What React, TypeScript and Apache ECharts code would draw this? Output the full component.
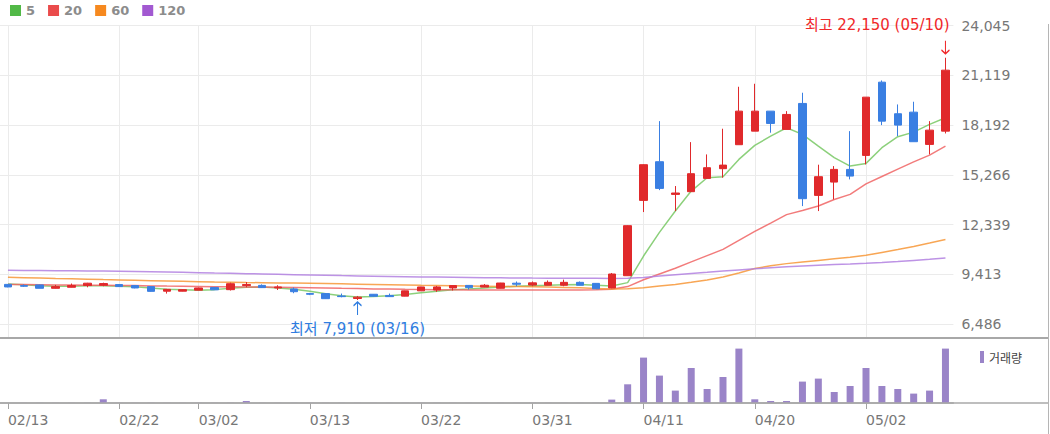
import React, { useEffect, useRef } from 'react';
import * as echarts from 'echarts';

const FONT = '"DejaVu Sans", "Noto Sans CJK KR", sans-serif';

const dates = [
  '02/13', '02/14', '02/15', '02/16', '02/17', '02/20', '02/21', '02/22', '02/23', '02/24',
  '02/27', '02/28', '03/02', '03/03', '03/06', '03/07', '03/08', '03/09', '03/10', '03/13',
  '03/14', '03/15', '03/16', '03/17', '03/20', '03/21', '03/22', '03/23', '03/24', '03/27',
  '03/28', '03/29', '03/30', '03/31', '04/03', '04/04', '04/05', '04/06', '04/07', '04/10',
  '04/11', '04/12', '04/13', '04/14', '04/17', '04/18', '04/19', '04/20', '04/21', '04/24',
  '04/25', '04/26', '04/27', '04/28', '05/02', '05/03', '05/04', '05/08', '05/09', '05/10',
];

const labelDates = ['02/13', '02/22', '03/02', '03/13', '03/22', '03/31', '04/11', '04/20', '05/02'];

const opens = [
  8830, 8760, 8800, 8600, 8660, 8760, 8780, 8820, 8760, 8700,
  8430, 8430, 8490, 8650, 8520, 8760, 8770, 8620, 8560, 8290,
  8290, 8150, 8000, 8250, 8180, 8140, 8450, 8500, 8620, 8770,
  8670, 8600, 8900, 8790, 8780, 8780, 8950, 8890, 8620, 9340,
  13767, 16040, 14120, 14278, 15059, 15630, 17039, 17837, 19012, 17937,
  19464, 14061, 14842, 15588, 16410, 20715, 18859, 18953, 17056, 17837,
];
const closes = [
  8680, 8720, 8600, 8700, 8760, 8900, 8880, 8700, 8620, 8420,
  8540, 8520, 8620, 8510, 8870, 8820, 8640, 8680, 8400, 8250,
  7990, 8110, 8080, 8130, 8110, 8450, 8680, 8680, 8760, 8640,
  8780, 8910, 8840, 8920, 8950, 8950, 8780, 8570, 9440, 12280,
  15864, 14472, 14200, 15335, 15688, 15840, 19012, 19012, 18289, 18818,
  13867, 15159, 15588, 15195, 19834, 18425, 18190, 17215, 17896, 21420,
];
const lows = [
  8660, 8680, 8600, 8590, 8650, 8660, 8720, 8690, 8600, 8400,
  8290, 8420, 8480, 8500, 8470, 8660, 8620, 8500, 8310, 8200,
  7980, 8070, 7910, 8120, 8100, 8130, 8440, 8390, 8470, 8530,
  8660, 8590, 8720, 8720, 8770, 8720, 8770, 8560, 8600, 9330,
  13080, 14370, 13140, 14278, 15059, 15100, 17039, 17837, 17743, 17937,
  13432, 13139, 13826, 15000, 15882, 18190, 17544, 17215, 16469, 17700,
];
const highs = [
  8850, 8830, 8810, 8800, 8880, 8920, 8930, 8830, 8780, 8720,
  8560, 8530, 8640, 8660, 8930, 8970, 8830, 8780, 8650, 8330,
  8300, 8290, 8150, 8260, 8290, 8460, 8690, 8740, 8770, 8780,
  8850, 8920, 9000, 9000, 9060, 9110, 9000, 8900, 9500, 12300,
  15880, 18425, 14610, 17191, 16469, 17978, 20445, 20621, 19012, 19012,
  20093, 15864, 15782, 17837, 19834, 20815, 19405, 19564, 18425, 22150,
];

// volume, thousand shares
const volumes = [
  12, 9, 15, 10, 8, 14, 370, 11, 9, 16,
  13, 8, 12, 10, 18, 200, 9, 11, 14, 10,
  12, 15, 13, 9, 8, 12, 11, 14, 10, 9,
  13, 12, 10, 11, 9, 14, 12, 15, 340, 1870,
  4540, 2740, 1240, 3500, 1400, 2600, 5440, 370, 200, 200,
  2140, 2440, 1100, 1700, 3500, 1700, 1400, 940, 1240, 5440,
];

const ma5 = [
  8852, 8805, 8746, 8716, 8716, 8746, 8746, 8716, 8687, 8617,
  8540, 8511, 8481, 8522, 8599, 8658, 8670, 8617, 8540, 8423,
  8276, 8158, 8088, 8112, 8158, 8229, 8335, 8423, 8511, 8558,
  8617, 8676, 8716, 8757, 8775, 8805, 8817, 8775, 8734, 8934,
  10496, 11888, 13139, 14313, 15100, 15159, 16175, 16997, 17544, 18037,
  17643, 16956, 16275, 15782, 15940, 16862, 17508, 17779, 18231, 18625,
];
const ma20 = [
  8830, 8822, 8812, 8800, 8792, 8786, 8780, 8770, 8758, 8742,
  8728, 8716, 8705, 8694, 8686, 8678, 8670, 8660, 8648, 8634,
  8616, 8598, 8582, 8566, 8552, 8540, 8530, 8522, 8514, 8506,
  8500, 8496, 8494, 8494, 8496, 8500, 8506, 8508, 8540, 8700,
  9100, 9440, 9780, 10150, 10520, 10890, 11420, 11950, 12430, 12930,
  13170, 13440, 13820, 14120, 14740, 15170, 15600, 16030, 16430, 16960,
];
const ma60 = [
  9245, 9225, 9205, 9180, 9160, 9135, 9110, 9090, 9070, 9050,
  9030, 9010, 8990, 8970, 8955, 8940, 8928, 8916, 8905, 8893,
  8876, 8860, 8843, 8826, 8809, 8792, 8775, 8762, 8750, 8737,
  8724, 8712, 8700, 8687, 8670, 8650, 8625, 8595, 8565, 8580,
  8630, 8730, 8830, 8950, 9090, 9270, 9500, 9760, 9920, 10050,
  10150, 10240, 10330, 10420, 10540, 10710, 10880, 11060, 11260, 11470,
];
const ma120 = [
  9656, 9650, 9643, 9636, 9628, 9620, 9610, 9597, 9584, 9570,
  9556, 9540, 9520, 9497, 9478, 9460, 9440, 9420, 9400, 9380,
  9362, 9345, 9330, 9315, 9300, 9285, 9270, 9258, 9246, 9234,
  9224, 9215, 9207, 9200, 9195, 9190, 9186, 9184, 9183, 9186,
  9230, 9322, 9400, 9470, 9540, 9615, 9680, 9745, 9810, 9873,
  9915, 9955, 9995, 10030, 10067, 10120, 10175, 10240, 10302, 10378,
];

const priceTicks = [6486, 9412.5, 12339, 15265.5, 18192, 21118.5, 24045];
const maNames = ['5', '20', '60', '120'];
const maLegendColors = ['#52b947', '#ea4b4b', '#f6891f', '#a259d1'];
const maLineColors = [
  'rgba(120, 200, 100, 0.85)',
  'rgba(240, 100, 100, 0.85)',
  'rgba(247, 150, 55, 0.85)',
  'rgba(178, 128, 224, 0.85)',
];
const highInfo = { date: '05/10', value: 22150, text: '최고 22,150 (05/10)' };
const lowInfo = { date: '03/16', value: 7910, text: '최저 7,910 (03/16)' };

const UP = '#e0292b';
const DOWN = '#3a7fe2';

function commas(v: number): string {
  const s = String(Math.round(v));
  return s.replace(/\B(?=(\d{3})+(?!\d))/g, ',');
}

const showLabel = (_i: number, v: string) => labelDates.includes(v);

export default function App() {
  const ref = useRef<HTMLDivElement>(null);

  useEffect(() => {
    if (!ref.current) return;
    const chart = echarts.init(ref.current, undefined, { renderer: 'svg' });
    const candles = dates.map((_, i) => [opens[i], closes[i], lows[i], highs[i]]);
    const maData = [ma5, ma20, ma60, ma120];

    const option: any = {
      animation: false,
      textStyle: { fontFamily: FONT },
      legend: [
        {
          data: maNames,
          left: 10,
          top: 4,
          padding: 0,
          itemWidth: 11,
          itemHeight: 11,
          itemGap: 13,
          icon: 'rect',
          selectedMode: false,
          textStyle: { color: '#8c8c8c', fontSize: 13, fontWeight: 'bold', fontFamily: FONT },
        },
        {
          data: ['거래량'],
          left: 980,
          top: 351,
          padding: 0,
          itemWidth: 4,
          itemHeight: 12,
          icon: 'rect',
          selectedMode: false,
          textStyle: { color: '#444', fontSize: 12, fontFamily: '"Noto Sans CJK KR", sans-serif' },
        },
      ],
      grid: [
        { left: 0, right: 96.6, top: 25.5, height: 312.5 },
        { left: 0, right: 96.6, top: 338, height: 65 },
      ],
      xAxis: [
        {
          type: 'category',
          gridIndex: 0,
          data: dates,
          boundaryGap: true,
          axisLine: { show: false },
          axisTick: { show: false },
          axisLabel: { show: false },
          splitLine: {
            show: true,
            interval: showLabel,
            alignWithLabel: true,
            lineStyle: { color: '#ebebeb', width: 1 },
          },
        },
        {
          type: 'category',
          gridIndex: 1,
          data: dates,
          boundaryGap: true,
          axisLine: { show: true, lineStyle: { color: '#a3a3a3', width: 1.5 } },
          axisTick: {
            show: true,
            interval: showLabel,
            alignWithLabel: true,
            length: 6,
            lineStyle: { color: '#a3a3a3' },
          },
          axisLabel: {
            interval: showLabel,
            align: 'left',
            margin: 10,
            color: '#777',
            fontSize: 14,
            fontFamily: FONT,
          },
          splitLine: { show: false },
        },
      ],
      yAxis: [
        {
          type: 'value',
          gridIndex: 0,
          position: 'right',
          min: 5679,
          max: 24045,
          axisLine: { show: false },
          axisTick: { show: false, customValues: priceTicks },
          axisLabel: {
            customValues: priceTicks,
            formatter: (v: number) => commas(v),
            color: '#777',
            fontSize: 14,
            margin: 8,
            fontFamily: FONT,
          },
          splitLine: { show: true, lineStyle: { color: '#ebebeb', width: 1 } },
        },
        {
          type: 'value',
          gridIndex: 1,
          min: 0,
          max: 6500,
          show: false,
          splitLine: { show: false },
        },
      ],
      graphic: [
        {
          type: 'line',
          shape: { x1: 0, y1: 338, x2: 1049, y2: 338 },
          style: { stroke: '#a8a8a8', lineWidth: 2 },
          z: 100,
        },
        {
          type: 'line',
          shape: { x1: 0, y1: 403, x2: 1049, y2: 403 },
          style: { stroke: '#a8a8a8', lineWidth: 1.5 },
          z: 100,
        },
        {
          type: 'line',
          shape: { x1: 1048.5, y1: 24, x2: 1048.5, y2: 434 },
          style: { stroke: '#b5b5b5', lineWidth: 1 },
          z: 100,
        },
      ],
      series: [
        ...maNames.map((name, k) => ({
          name,
          type: 'line',
          xAxisIndex: 0,
          yAxisIndex: 0,
          data: maData[k],
          symbol: 'none',
          silent: true,
          z: 1,
          itemStyle: { color: maLegendColors[k] },
          lineStyle: { color: maLineColors[k], width: 1.5 },
        })),
        {
          name: '가격',
          type: 'candlestick',
          xAxisIndex: 0,
          yAxisIndex: 0,
          data: candles,
          barWidth: 8,
          z: 3,
          itemStyle: {
            color: UP,
            color0: DOWN,
            borderColor: UP,
            borderColor0: DOWN,
            borderWidth: 1,
          },
          markPoint: {
            animation: false,
            silent: true,
            data: [
              {
                coord: [highInfo.date, highInfo.value],
                symbol: 'path://M5 0 L5 14 M1 10 L5 14 L9 10',
                symbolSize: [8, 13],
                symbolOffset: [0, -10.5],
                itemStyle: { color: 'none', borderColor: '#f0282a', borderWidth: 1.3 },
                label: {
                  show: true,
                  formatter: highInfo.text,
                  position: [10, -13],
                  align: 'right',
                  verticalAlign: 'middle',
                  color: '#f0282a',
                  fontSize: 15,
                  fontFamily: FONT,
                },
              },
              {
                coord: [lowInfo.date, lowInfo.value],
                symbol: 'path://M5 14 L5 0 M1 4 L5 0 L9 4',
                symbolSize: [8, 13],
                symbolOffset: [0, 8.5],
                itemStyle: { color: 'none', borderColor: '#2f7de0', borderWidth: 1.3 },
                label: {
                  show: true,
                  formatter: lowInfo.text,
                  position: 'bottom',
                  distance: 3,
                  color: '#2f7de0',
                  fontSize: 15,
                  fontFamily: FONT,
                },
              },
            ],
          },
        },
        {
          name: '거래량',
          type: 'bar',
          xAxisIndex: 1,
          yAxisIndex: 1,
          data: volumes,
          barWidth: 7,
          itemStyle: { color: '#9a84c8' },
        },
      ],
    };

    chart.setOption(option);
    return () => {
      chart.dispose();
    };
  }, []);

  return (
    <div
      ref={ref}
      style={{ position: 'absolute', left: 0, top: 0, width: 1050, height: 434, background: '#fff' }}
    />
  );
}
